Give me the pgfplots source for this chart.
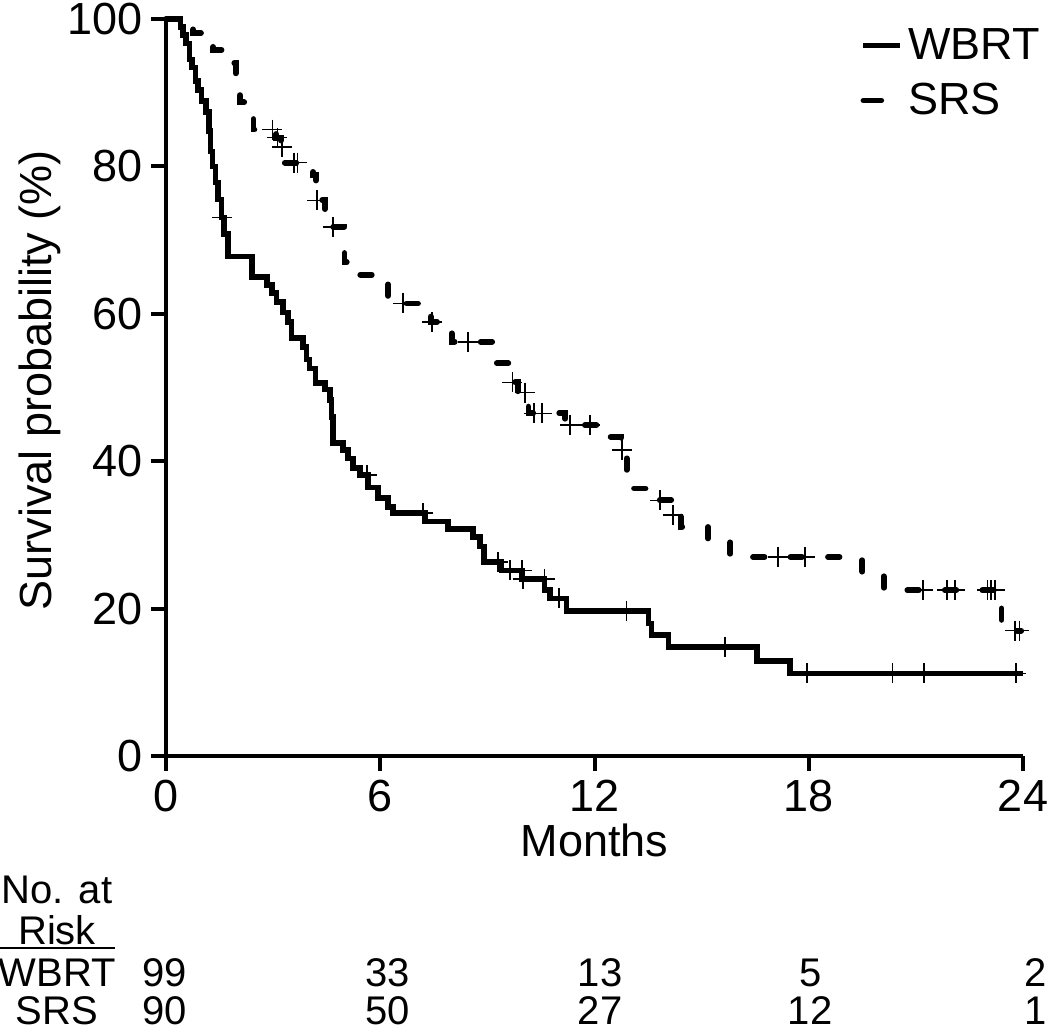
\documentclass[border=0pt]{standalone}
\usepackage{pgfplots}
\pgfplotsset{compat=1.18}
\usepackage{fontspec}
\setmainfont{Liberation Sans}

\newcommand{\lblfont}{\fontsize{18}{21.6}\selectfont}
\newcommand{\tabfont}{\fontsize{16}{19}\selectfont}

\begin{document}
\begin{tikzpicture}
\begin{axis}[
    name=ax,
    width=342.8pt, height=294.8pt, scale only axis,
    xmin=0, xmax=24, ymin=0, ymax=100,
    axis lines=left,
    axis line style={line width=1.6pt, -},
    xtick={0,6,12,18,24}, ytick={0,20,40,60,80,100},
    tick align=outside, major tick length=6pt,
    tick style={line width=1.6pt, black},
    /pgf/number format/assume math mode=true,
    tick label style={font=\lblfont},
    xlabel={Months}, ylabel={Survival probability (\%)},
    label style={font=\lblfont},
    xlabel style={at={(axis description cs:0.5,-0.114)}, anchor=center},
    ylabel style={at={(axis description cs:-0.147,0.51)}, anchor=center},
    clip=false,
    legend style={at={(axis description cs:1.026,0.995)}, anchor=north east,
        draw=none, fill=none, font=\lblfont, inner sep=0pt,
        row sep=4pt, /tikz/every even column/.append style={column sep=5pt}},
    legend cell align=left,
]
% WBRT
\addplot[const plot, line width=2.2pt, black,
    legend image code/.code={\draw[line width=2.2pt] (0pt,0pt) -- (14.8pt,0pt);}]
coordinates {
(0,100) (0.40,98.9) (0.48,97.8) (0.56,96.7) (0.66,94.5) (0.73,93.4) (0.82,91.6)
(0.90,90.4) (0.99,88.9) (1.12,87.4) (1.20,84.8) (1.24,82.0) (1.30,80.0) (1.38,77.8)
(1.45,75.5) (1.55,73.1) (1.62,70.8) (1.74,67.8) (2.41,65.0) (2.83,63.9) (2.97,62.8)
(3.10,61.6) (3.27,60.2) (3.42,58.9) (3.52,56.7) (3.84,55.5) (3.94,53.8) (4.02,52.6)
(4.18,50.6) (4.45,49.7) (4.59,48.3) (4.63,46.0) (4.68,42.5) (4.96,41.5) (5.10,40.4)
(5.24,39.1) (5.43,38.1) (5.66,36.4) (5.94,35.0) (6.22,33.8) (6.36,33.0) (7.26,31.8)
(7.90,30.8) (8.60,29.7) (8.80,28.4) (8.90,26.3) (9.40,25.2) (9.97,24.0) (10.60,22.5)
(10.75,21.4) (11.22,19.7) (13.51,18.0) (13.60,16.4) (14.07,14.8) (16.55,12.9)
(17.48,11.2) (24,11.2)
};
% SRS
\addplot[const plot, line width=2.3pt, black, line cap=round,
    dash pattern=on 4.6pt off 10.4pt,
    legend image code/.code={\draw[line width=2.2pt,solid] (0pt,0pt) -- (7.2pt,0pt);}]
coordinates {
(0,100) (0.76,98.1) (1.32,95.8) (1.75,94.0) (1.95,92.4) (2.07,88.7) (2.45,85.0)
(3.08,83.9) (3.22,82.6) (3.28,80.5) (4.12,78.8) (4.20,75.4) (4.45,74.0) (4.60,71.8)
(5.00,67.0) (5.35,65.3) (6.22,61.4) (7.42,58.9) (8.00,56.2) (9.20,53.3) (9.72,50.7)
(9.85,49.3) (10.15,46.5) (11.18,44.9) (12.45,43.3) (12.75,41.5) (12.90,38.5)
(13.10,36.3) (13.70,34.7) (14.15,32.7) (14.42,31.1) (15.18,29.3) (15.80,27.0)
(19.50,24.8) (20.10,22.5) (23.40,17.0) (23.95,17.0)
};
\legend{WBRT, SRS}
% censoring marks
\addplot[only marks, mark=+, mark size=4pt, black, line width=0.6pt, forget plot]
coordinates {
(1.57,73.1) (5.63,38.1) (7.20,33.0) (9.30,26.3) (9.64,25.2) (9.97,25.2) (10.00,24.0)
(10.60,24.0) (11.00,21.4) (12.90,19.7) (15.66,14.8) (17.95,11.2) (20.35,11.2)
(21.23,11.2) (23.80,11.2)
};
\addplot[only marks, mark=+, mark size=4pt, black, line width=0.6pt, forget plot]
coordinates {
(2.98,85.0) (3.12,83.9) (3.25,82.6) (3.58,80.5) (3.68,80.5) (4.23,75.4) (4.68,71.8)
(6.64,61.4) (7.45,58.9) (8.46,56.2) (9.70,50.7) (10.05,49.3) (10.30,46.5) (10.53,46.5)
(11.32,44.9) (11.88,44.9) (12.77,41.5) (13.84,34.7) (14.20,32.7) (17.14,27.0)
(17.90,27.0) (21.20,22.5) (21.87,22.5) (22.10,22.5) (23.00,22.5) (23.10,22.5)
(23.22,22.5) (23.78,17.0) (23.90,17.0)
};
% number at risk table
\node[font=\tabfont] at (axis cs:-3.05,-18.2) {No. at};
\node[font=\tabfont] at (axis cs:-3.05,-23.6) {Risk};
\draw[line width=0.8pt] (axis cs:-4.65,-26.05) -- (axis cs:-1.43,-26.05);
\node[font=\tabfont] at (axis cs:-3.05,-29.4) {WBRT};
\node[font=\tabfont] at (axis cs:-3.05,-34.6) {SRS};
\node[font=\tabfont] at (axis cs:-0.03,-29.4) {99};
\node[font=\tabfont] at (axis cs:6.2,-29.4) {33};
\node[font=\tabfont] at (axis cs:12.16,-29.4) {13};
\node[font=\tabfont] at (axis cs:18.04,-29.4) {5};
\node[font=\tabfont] at (axis cs:24.34,-29.4) {2};
\node[font=\tabfont] at (axis cs:-0.03,-34.6) {90};
\node[font=\tabfont] at (axis cs:6.2,-34.6) {50};
\node[font=\tabfont] at (axis cs:12.16,-34.6) {27};
\node[font=\tabfont] at (axis cs:18.04,-34.6) {12};
\node[font=\tabfont] at (axis cs:24.34,-34.6) {1};
\end{axis}
\pgfresetboundingbox
\path (ax.south west) ++(-66.4pt,-110pt) rectangle ++(420pt,412.4pt);
\end{tikzpicture}
\end{document}
